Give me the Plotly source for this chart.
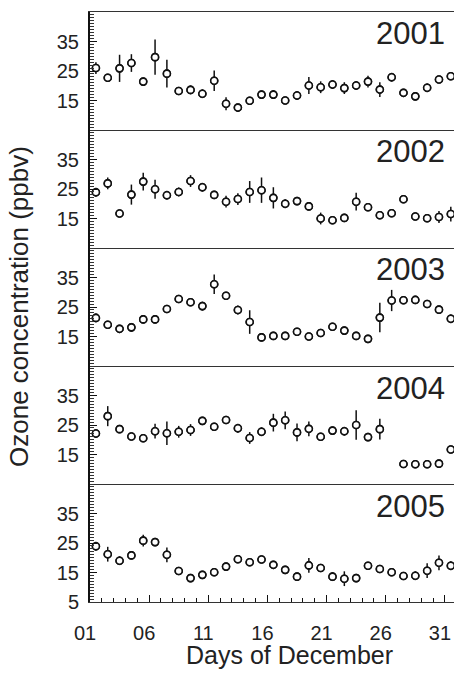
import plotly.graph_objects as go
from plotly.subplots import make_subplots

days = list(range(1, 32))
years = ["2001", "2002", "2003", "2004", "2005"]

vals_2001 = [26.0, 22.7, 25.9, 27.7, 21.4, 29.7, 24.1, 18.2, 18.6, 17.3, 21.7, 13.9, 12.6, 14.9, 17.0, 17.0,
             15.0, 16.7, 20.1, 19.5, 20.4, 19.2, 20.1, 21.4, 18.7, 22.9, 17.6, 16.4, 19.3, 22.1, 23.2]
err_2001 = [2.0, 1.0, 4.6, 3.0, 1.2, 6.0, 4.7, 1.0, 1.5, 1.5, 3.5, 2.2, 1.0, 1.0, 1.0, 1.5,
            1.0, 1.5, 2.9, 2.0, 1.5, 2.0, 1.5, 2.0, 2.5, 1.5, 1.0, 1.0, 1.5, 1.0, 1.0]

vals_2002 = [23.9, 26.9, 16.7, 23.1, 27.5, 24.9, 22.9, 24.0, 27.7, 25.6, 23.0, 20.7, 21.6, 24.0, 24.6, 22.0,
             20.0, 20.9, 19.1, 15.0, 14.4, 15.2, 20.7, 18.8, 16.1, 16.8, 21.5, 15.7, 15.1, 15.5, 16.5]
err_2002 = [1.5, 2.0, 1.0, 3.4, 3.0, 3.2, 1.5, 1.5, 2.0, 1.5, 1.0, 2.0, 2.0, 3.7, 4.3, 3.6,
            1.5, 1.0, 1.0, 2.0, 1.0, 1.0, 3.0, 1.0, 1.0, 1.0, 1.0, 1.0, 1.0, 2.0, 2.5]

vals_2003 = [21.3, 19.0, 17.6, 18.1, 20.8, 20.8, 24.3, 27.7, 26.6, 25.3, 32.7, 28.8, 24.0, 19.9, 14.7, 15.2,
             15.2, 16.6, 15.0, 16.2, 18.3, 17.0, 15.2, 14.2, 21.4, 27.2, 27.3, 27.4, 26.0, 24.1, 21.0]
err_2003 = [1.5, 1.0, 1.0, 1.5, 1.0, 1.0, 1.0, 1.0, 1.0, 1.5, 3.3, 1.0, 1.5, 4.0, 1.0, 1.0,
            1.0, 1.0, 1.0, 1.0, 1.0, 1.0, 1.0, 1.0, 5.0, 3.6, 1.0, 1.0, 1.0, 1.0, 1.5]

vals_2004 = [22.1, 28.0, 23.6, 21.1, 20.5, 22.9, 22.2, 22.7, 23.3, 26.4, 24.4, 26.7, 23.9, 20.6, 22.7, 25.8,
             26.6, 22.5, 23.7, 21.0, 23.1, 22.9, 25.0, 20.9, 23.6, None, 11.8, 11.7, 11.7, 11.9, 16.7]
err_2004 = [1.5, 3.4, 1.0, 1.0, 1.0, 2.5, 4.0, 2.0, 2.0, 1.0, 1.0, 1.0, 1.5, 2.0, 1.5, 3.0,
            3.0, 3.0, 2.5, 1.0, 1.0, 1.5, 5.0, 1.0, 3.5, None, 0.5, 0.5, 0.5, 0.5, 1.0]

vals_2005 = [23.9, 21.2, 19.0, 20.8, 25.8, 25.3, 21.0, 15.5, 13.1, 14.2, 15.1, 17.0, 19.5, 18.5, 19.4, 17.6,
             15.9, 13.6, 17.4, 16.5, 13.6, 12.9, 13.1, 17.3, 16.2, 15.1, 13.8, 13.9, 15.6, 18.3, 17.3]
err_2005 = [1.5, 2.5, 1.5, 1.0, 2.0, 1.0, 2.5, 1.0, 1.0, 1.0, 1.0, 1.0, 1.0, 1.0, 1.0, 1.0,
            1.0, 1.0, 2.5, 1.0, 1.5, 2.5, 1.0, 1.0, 1.0, 1.0, 1.0, 1.5, 2.5, 2.5, 1.5]

series = [(vals_2001, err_2001), (vals_2002, err_2002), (vals_2003, err_2003),
          (vals_2004, err_2004), (vals_2005, err_2005)]

x_ticks = [1, 6, 11, 16, 21, 26, 31]
x_ticktext = ["01", "06", "11", "16", "21", "26", "31"]

FONT = "Liberation Sans, Arial, sans-serif"
TXT = "#222222"

fig = make_subplots(rows=5, cols=1, shared_xaxes=True, vertical_spacing=0)

# observations are placed at midday of each date
x_mid = [d + 0.5 for d in days]

for i, (vals, errs) in enumerate(series):
    fig.add_trace(go.Scatter(
        x=x_mid, y=vals, mode="markers",
        marker=dict(symbol="circle-open", size=7, color="#111111", line=dict(width=1.6, color="#111111")),
        error_y=dict(type="data", array=errs, visible=True, width=0, thickness=1.5, color="#111111"),
        showlegend=False,
    ), row=i + 1, col=1)
    # white fill inside circles
    fig.add_trace(go.Scatter(
        x=x_mid, y=vals, mode="markers",
        marker=dict(symbol="circle", size=7, color="white", line=dict(width=1.6, color="#111111")),
        showlegend=False, hoverinfo="skip",
    ), row=i + 1, col=1)

    last = i == 4
    fig.update_yaxes(
        range=[5, 45],
        tickmode="array",
        tickvals=[5, 15, 25, 35] if last else [15, 25, 35],
        ticks="inside", ticklen=7, tickwidth=1.2, tickcolor="#111111",
        minor=dict(tickmode="linear", tick0=5, dtick=1, ticks="inside", ticklen=4,
                   tickwidth=0.8, tickcolor="#333333", showgrid=False),
        showline=True, linecolor="#111111", linewidth=2,
        showgrid=False, zeroline=False,
        tickfont=dict(family=FONT, size=20, color=TXT),
        ticklabelstandoff=5,
        row=i + 1, col=1,
    )
    fig.update_xaxes(
        range=[1, 31.77],
        showline=True, mirror=(i == 0), linecolor="#333333", linewidth=1.4,
        showgrid=False, zeroline=False,
        row=i + 1, col=1,
    )
    fig.add_annotation(
        text=years[i], xref="x domain", yref="y domain",
        x=0.981, y=1 - 22 / 118, xanchor="right", yanchor="middle",
        showarrow=False, font=dict(family=FONT, size=31, color=TXT),
        row=i + 1, col=1,
    )

fig.update_xaxes(
    tickmode="array", tickvals=x_ticks, ticktext=x_ticktext,
    ticks="inside", ticklen=7, tickwidth=1.2, tickcolor="#111111",
    minor=dict(tickmode="linear", tick0=1, dtick=1, ticks="inside", ticklen=4,
               tickwidth=1.0, tickcolor="#111111"),
    tickfont=dict(family=FONT, size=20, color=TXT),
    ticklabelstandoff=13,
    ticklabelshift=-5,
    ticklabeloverflow="allow",
    showticklabels=True,
    row=5, col=1,
)

fig.add_annotation(
    text="Days of December", xref="paper", yref="paper",
    x=(289 - 90) / 364, y=-(655 - 602) / 590, xanchor="center", yanchor="middle",
    showarrow=False, font=dict(family=FONT, size=25, color=TXT),
)
fig.add_annotation(
    text="Ozone concentration (ppbv)", xref="paper", yref="paper",
    x=-(90 - 19) / 364, y=0.5, xanchor="center", yanchor="middle", textangle=-90,
    showarrow=False, font=dict(family=FONT, size=26, color=TXT),
)

fig.update_layout(
    width=454, height=675,
    margin=dict(l=90, r=0, t=12, b=73),
    paper_bgcolor="white", plot_bgcolor="white",
    font=dict(family=FONT, color=TXT),
)

fig.write_html("out.html", config={"displayModeBar": False},
               post_script="document.body.style.margin='0';document.body.style.overflow='hidden';")
